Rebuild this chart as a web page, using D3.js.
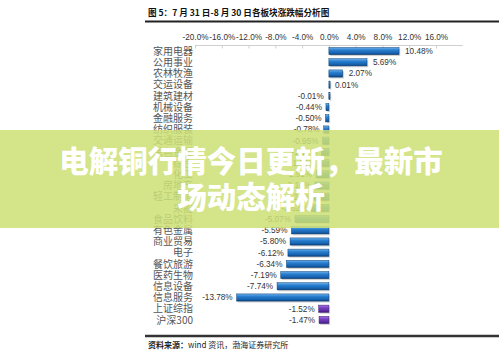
<!DOCTYPE html>
<html><head><meta charset="utf-8">
<script src="https://cdn.jsdelivr.net/npm/d3@7"></script>
<style>html,body{margin:0;padding:0;background:#fff;}svg{display:block;}</style>
</head><body>
<script>
const categories = ["家用电器","公用事业","农林牧渔","交运设备","建筑建材","机械设备","金融服务","纺织服装","交通运输","黑色金属","综合","化工","房地产","轻工制造","采掘","食品饮料","有色金属","商业贸易","电子","餐饮旅游","医药生物","信息设备","信息服务","上证综指","沪深300"];
const values = [10.48,5.69,2.07,0.01,-0.01,-0.44,-0.50,-0.78,-0.95,-1.12,-1.38,-1.91,-2.10,-2.24,-2.62,-5.07,-5.59,-5.80,-6.12,-6.34,-7.19,-7.74,-13.78,-1.52,-1.47];
const indexRows = ["上证综指","沪深300"];
const tickValues = [-20,-16,-12,-8,-4,0,4,8,12,16];
const titleText = "图 5：7 月 31 日-8 月 30 日各板块涨跌幅分析图";
const sourceLabel = "资料来源：";
const sourceText = "wind 资讯，渤海证券研究所";
const bannerLines = ["电解铜行情今日更新，最新市","场动态解析"];

const W = 499, H = 359;
const svg = d3.select("body").append("svg").attr("width", W).attr("height", H);
const defs = svg.append("defs");
function grad(id, stops){
  const g = defs.append("linearGradient").attr("id", id).attr("x1",0).attr("y1",0).attr("x2",0).attr("y2",1);
  stops.forEach(s => g.append("stop").attr("offset", s[0]).attr("stop-color", s[1]));
}
grad("blueG", [[0,"#6fb2ea"],[0.35,"#2a7fd0"],[0.8,"#1560ad"],[1,"#0b3f78"]]);
grad("purpG", [[0,"#a77be0"],[0.35,"#7a43c4"],[0.8,"#5b2ba0"],[1,"#3b1670"]]);

const x = d3.scaleLinear().domain([-20, 16]).range([195, 436]);
const y = d3.scaleBand().domain(categories).range([45.5, 325.5]).paddingInner(0.36).paddingOuter(0.18);

// title
svg.append("text").attr("x", 148).attr("y", 16).attr("font-family", "Noto Sans CJK SC").attr("font-weight", 700)
  .attr("font-size", 8.6).attr("fill", "#111").text(titleText);
svg.append("line").attr("x1", 145).attr("x2", W).attr("y1", 21.5).attr("y2", 21.5).attr("stroke", "#222").attr("stroke-width", 2);

// top axis
const axis = d3.axisTop(x).tickValues(tickValues).tickSize(3).tickFormat(d => d.toFixed(1) + "%");
const ag = svg.append("g").attr("transform", "translate(0,45.5)").call(axis);
ag.select(".domain").attr("stroke", "#cfcfcf").attr("d", `M${x(-20)},0H${x(20)}`);
ag.selectAll(".tick line").attr("stroke", "#cfcfcf").attr("y2", 3);
ag.selectAll(".tick text").attr("font-family", "Liberation Sans, Arial").attr("font-size", 8.2).attr("fill", "#333").attr("y", -6);
ag.attr("font-size", null);

// category labels
svg.append("g").selectAll("text").data(categories).join("text")
  .attr("x", 193).attr("y", d => y(d) + y.bandwidth()/2).attr("dy", "0.36em")
  .attr("text-anchor", "end").attr("font-family", "Noto Sans CJK SC").attr("font-size", 10)
  .attr("fill", "#555").text(d => d);

const data = categories.map((c, i) => ({c, v: values[i]}));
// shadows
svg.append("g").selectAll("rect").data(data).join("rect")
  .attr("x", d => Math.min(x(0), x(d.v)) + 1.2).attr("y", d => y(d.c) + 1.4)
  .attr("width", d => Math.max(1.2, Math.abs(x(d.v) - x(0))))
  .attr("height", y.bandwidth()).attr("fill", "#9a9a9a").attr("opacity", 0.45);
// bars
svg.append("g").selectAll("rect").data(data).join("rect")
  .attr("x", d => Math.min(x(0), x(d.v))).attr("y", d => y(d.c))
  .attr("width", d => Math.max(1.2, Math.abs(x(d.v) - x(0))))
  .attr("height", y.bandwidth())
  .attr("fill", d => indexRows.includes(d.c) ? "url(#purpG)" : "url(#blueG)")
  .attr("stroke", d => indexRows.includes(d.c) ? "#3b1670" : "#0b3f78").attr("stroke-width", 0.5);
// value labels
svg.append("g").selectAll("text").data(data).join("text")
  .attr("x", d => d.v >= 0 ? x(d.v) + 6 : Math.min(x(d.v), x(0) - 1.2) - 4)
  .attr("y", d => y(d.c) + y.bandwidth()/2).attr("dy", "0.36em")
  .attr("text-anchor", d => d.v >= 0 ? "start" : "end")
  .attr("font-family", "Liberation Sans, Arial").attr("font-size", 8.2).attr("fill", "#333")
  .text(d => d.v.toFixed(2) + "%");

// bottom rule and source
svg.append("line").attr("x1", 145).attr("x2", W).attr("y1", 336).attr("y2", 336).attr("stroke", "#333").attr("stroke-width", 2.5);
const st = svg.append("text").attr("x", 148).attr("y", 348).attr("font-family", "Noto Sans CJK SC").attr("font-size", 8).attr("fill", "#222");
st.append("tspan").attr("font-weight", 700).text(sourceLabel);
st.append("tspan").text(sourceText);

// banner overlay
svg.append("rect").attr("x", 0).attr("y", 130).attr("width", W).attr("height", 98).attr("fill", "rgb(204,224,118)").attr("opacity", 0.86);
svg.append("g").selectAll("text").data(bannerLines).join("text")
  .attr("x", 251).attr("y", (d, i) => 172 + i * 36).attr("text-anchor", "middle")
  .attr("font-family", "Noto Sans CJK SC").attr("font-weight", 900).attr("font-size", 29.5)
  .attr("fill", "#fff").text(d => d);
</script>
</body></html>
